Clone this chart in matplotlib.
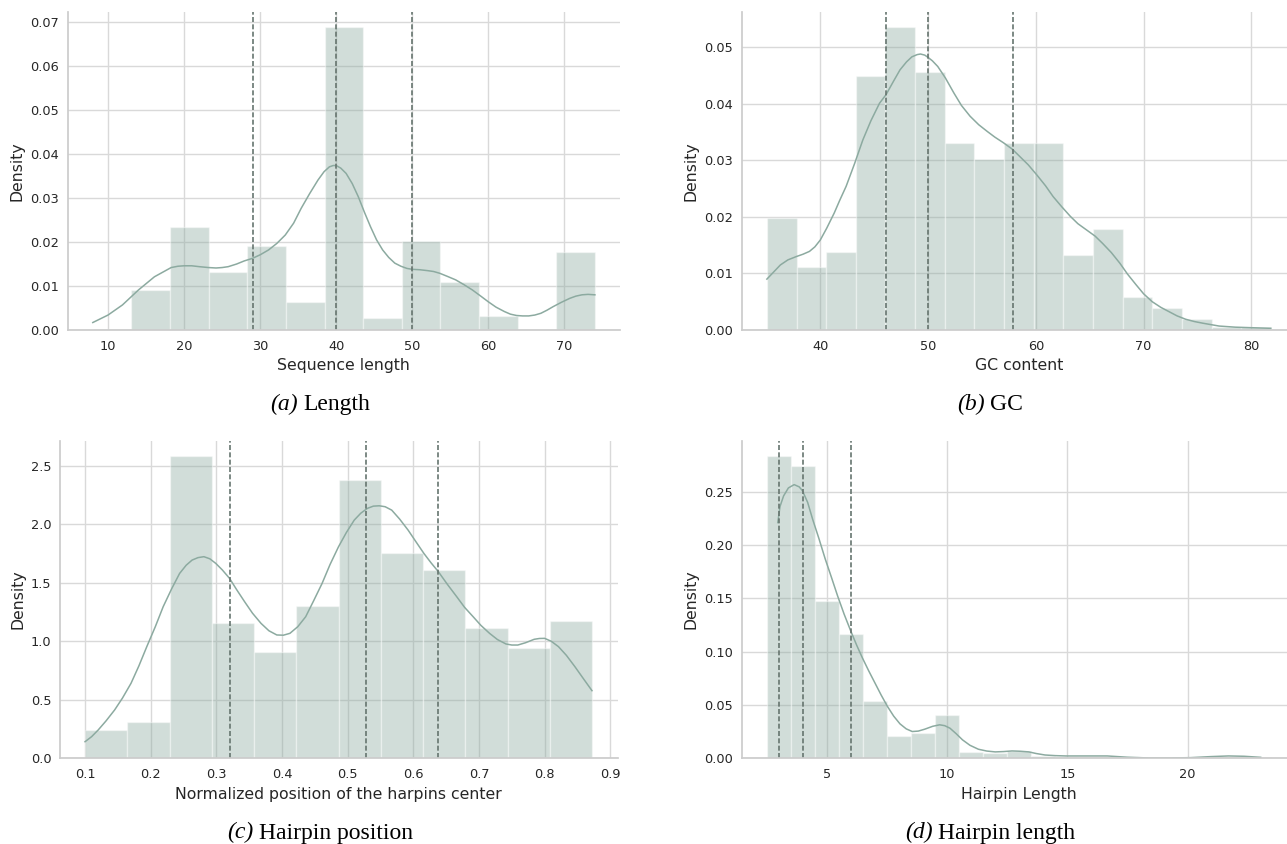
import matplotlib
matplotlib.use("Agg")
import matplotlib.pyplot as plt

# (a) sequence length
len_edges = [8.0, 13.08, 18.15, 23.23, 28.31, 33.38, 38.46, 43.54, 48.62, 53.69, 58.77, 63.85, 68.92, 74.0]
len_density = [0.0003, 0.0092, 0.0235, 0.0131, 0.0192, 0.0064, 0.0688, 0.0028, 0.0202, 0.0110, 0.0031, 0.0, 0.0178]
len_kde_x = [8.0, 10.0, 11.9, 14.0, 16.1, 18.3, 19.2, 20.0, 21.0, 22.0, 23.2, 24.2, 25.0, 25.8, 26.9, 27.9,
             29.0, 30.0, 31.1, 32.2, 33.3, 34.4, 35.4, 36.5, 37.6, 38.4, 39.1, 39.6, 40.0, 40.6, 41.3, 42.1,
             42.9, 43.7, 44.5, 45.3, 46.1, 46.9, 47.7, 48.5, 49.3, 50.0, 51.0, 52.0, 52.8, 53.6, 54.6, 55.7,
             56.8, 57.9, 59.0, 60.0, 61.0, 62.1, 62.9, 63.7, 64.5, 65.3, 66.1, 66.9, 67.7, 68.5, 69.6, 70.7,
             71.5, 72.3, 73.1, 74.0]
len_kde_y = [0.0017, 0.0034, 0.0057, 0.0091, 0.0121, 0.0142, 0.0145, 0.0146, 0.0146, 0.0144, 0.0142, 0.0141,
             0.0142, 0.0144, 0.0150, 0.0157, 0.0163, 0.0171, 0.0182, 0.0197, 0.0216, 0.0243, 0.0277, 0.0310,
             0.0341, 0.0360, 0.0371, 0.0374, 0.0374, 0.0368, 0.0356, 0.0333, 0.0303, 0.0268, 0.0235, 0.0205,
             0.0182, 0.0165, 0.0152, 0.0145, 0.0140, 0.0138, 0.0137, 0.0135, 0.0133, 0.0129, 0.0122, 0.0114,
             0.0103, 0.0091, 0.0077, 0.0064, 0.0052, 0.0042, 0.0036, 0.0033, 0.0032, 0.0032, 0.0034, 0.0038,
             0.0045, 0.0053, 0.0063, 0.0072, 0.0077, 0.0080, 0.0081, 0.0080]
len_quartiles = [29, 40, 50]

# (b) GC content
gc_edges = [35.05, 37.80, 40.55, 43.30, 46.05, 48.80, 51.55, 54.30, 57.05, 59.80, 62.55, 65.30, 68.05,
            70.80, 73.55, 76.30, 79.05, 81.80]
gc_density = [0.0198, 0.0112, 0.0138, 0.0449, 0.0535, 0.0456, 0.0330, 0.0303, 0.0330, 0.0330, 0.0132,
              0.0178, 0.0059, 0.0039, 0.0019, 0.0006, 0.0005]
gc_kde_x = [35.05, 35.7, 36.3, 37.0, 37.8, 38.4, 39.0, 39.5, 40.0, 40.6, 41.3, 41.8, 42.4, 43.2, 43.95,
            44.7, 45.5, 46.1, 46.8, 47.4, 48.0, 48.5, 49.0, 49.3, 49.7, 50.0, 50.4, 50.9, 51.6, 52.4, 53.1,
            53.9, 54.7, 55.5, 56.2, 57.0, 57.8, 58.5, 59.3, 60.1, 60.9, 61.6, 62.4, 63.2, 63.9, 64.7, 65.5,
            66.2, 67.0, 67.8, 68.5, 69.3, 70.0, 70.8, 71.6, 72.4, 73.1, 73.9, 74.7, 75.5, 77.0, 78.5,
            80.1, 81.8]
gc_kde_y = [0.0090, 0.0103, 0.0115, 0.0124, 0.0130, 0.0134, 0.0139, 0.0147, 0.0159, 0.0180, 0.0207,
            0.0229, 0.0254, 0.0295, 0.0336, 0.0370, 0.0401, 0.0416, 0.0440, 0.0460, 0.0474, 0.0483, 0.0487,
            0.0488, 0.0486, 0.0482, 0.0476, 0.0466, 0.0446, 0.0419, 0.0397, 0.0378, 0.0363, 0.0351, 0.0341,
            0.0331, 0.0320, 0.0307, 0.0292, 0.0274, 0.0255, 0.0236, 0.0218, 0.0201, 0.0188, 0.0177, 0.0166,
            0.0153, 0.0137, 0.0118, 0.0099, 0.0080, 0.0064, 0.0050, 0.0040, 0.0032, 0.0025, 0.0019, 0.0015,
            0.0012, 0.0007, 0.0005, 0.0004, 0.0003]
gc_quartiles = [46.1, 50.0, 57.9]

# (c) hairpin position
pos_edges = [0.100, 0.1644, 0.2287, 0.2931, 0.3575, 0.4218, 0.4862, 0.5506, 0.6149, 0.6793, 0.7437,
             0.8080, 0.8724]
pos_density = [0.245, 0.308, 2.585, 1.156, 0.908, 1.304, 2.378, 1.757, 1.609, 1.113, 0.945, 1.176]
pos_kde_x = [0.100, 0.110, 0.120, 0.132, 0.145, 0.157, 0.170, 0.182, 0.194, 0.207, 0.219, 0.232, 0.244,
             0.254, 0.263, 0.272, 0.281, 0.290, 0.299, 0.309, 0.320, 0.331, 0.343, 0.355, 0.368, 0.380,
             0.392, 0.402, 0.412, 0.424, 0.436, 0.448, 0.461, 0.473, 0.486, 0.498, 0.510, 0.520, 0.530,
             0.539, 0.548, 0.557, 0.567, 0.579, 0.592, 0.604, 0.616, 0.627, 0.638, 0.652, 0.666, 0.678,
             0.691, 0.703, 0.716, 0.728, 0.741, 0.750, 0.759, 0.771, 0.784, 0.792, 0.800, 0.810, 0.821,
             0.833, 0.846, 0.859, 0.872]
pos_kde_y = [0.142, 0.185, 0.242, 0.320, 0.413, 0.515, 0.641, 0.790, 0.954, 1.125, 1.296, 1.450, 1.580,
             1.650, 1.694, 1.715, 1.723, 1.705, 1.666, 1.610, 1.538, 1.440, 1.338, 1.240, 1.153, 1.090,
             1.054, 1.052, 1.068, 1.125, 1.210, 1.345, 1.495, 1.655, 1.808, 1.930, 2.036, 2.095, 2.136,
             2.155, 2.158, 2.150, 2.121, 2.045, 1.950, 1.850, 1.751, 1.670, 1.595, 1.485, 1.381, 1.290,
             1.210, 1.135, 1.068, 1.015, 0.977, 0.968, 0.968, 0.988, 1.017, 1.024, 1.025, 1.000, 0.954,
             0.880, 0.783, 0.680, 0.578]
pos_quartiles = [0.320, 0.528, 0.638]

# (d) hairpin length
hp_edges = [2.5, 3.5, 4.5, 5.5, 6.5, 7.5, 8.5, 9.5, 10.5, 11.5, 12.5, 13.5, 14.5, 15.5, 16.5, 17.5,
            18.5, 19.5, 20.5, 21.5, 22.5, 23.5]
hp_density = [0.2836, 0.2745, 0.1474, 0.1170, 0.0540, 0.0210, 0.0235, 0.0408, 0.0060, 0.0047, 0.0072,
              0.0025, 0.0016, 0.0013, 0.0016, 0.0006, 0.0, 0.0, 0.0010, 0.0013, 0.0010]
hp_kde_x = [2.96, 3.05, 3.2, 3.4, 3.64, 3.85, 3.98, 4.2, 4.41, 4.67, 4.93, 5.2, 5.45, 5.72, 6.0, 6.24,
            6.48, 6.74, 7.0, 7.26, 7.52, 7.78, 8.04, 8.3, 8.55, 8.8, 9.07, 9.4, 9.69, 9.9, 10.12, 10.38,
            10.64, 10.95, 11.3, 11.65, 12.0, 12.35, 12.7, 13.05, 13.4, 13.7, 14.07, 14.5, 14.94, 15.8,
            16.66, 17.5, 18.4, 19.26, 20.12, 20.98, 21.7, 22.35, 23.04]
hp_kde_y = [0.221, 0.236, 0.246, 0.2535, 0.2566, 0.2545, 0.251, 0.240, 0.224, 0.206, 0.187, 0.169, 0.152,
            0.135, 0.119, 0.106, 0.094, 0.082, 0.0706, 0.0592, 0.0486, 0.0395, 0.0323, 0.0276, 0.0251,
            0.0255, 0.0273, 0.0300, 0.0314, 0.0306, 0.0282, 0.0230, 0.0173, 0.0122, 0.0085, 0.0068, 0.0060,
            0.0063, 0.0069, 0.0066, 0.0060, 0.0045, 0.0031, 0.0025, 0.0022, 0.0022, 0.0022, 0.0010, 0.0003,
            0.0003, 0.0006, 0.0016, 0.0022, 0.0019, 0.0009]
hp_quartiles = [3, 4, 6]

x_labels = ["Sequence length", "GC content", "Normalized position of the harpins center", "Hairpin Length"]
cap_tags = ["(a)", "(b)", "(c)", "(d)"]
cap_names = ["Length", "GC", "Hairpin position", "Hairpin length"]

panels = [
    (len_edges, len_density, len_kde_x, len_kde_y, len_quartiles),
    (gc_edges, gc_density, gc_kde_x, gc_kde_y, gc_quartiles),
    (pos_edges, pos_density, pos_kde_x, pos_kde_y, pos_quartiles),
    (hp_edges, hp_density, hp_kde_x, hp_kde_y, hp_quartiles),
]

W, H = 1287, 844
fig = plt.figure(figsize=(W / 100, H / 100), dpi=100)

# axes boxes in pixels: left, right, top, bottom
boxes = [(67.7, 620.0, 12.3, 330.0), (741.7, 1296.0, 12.3, 330.0),
         (59.7, 617.6, 440.7, 758.3), (741.5, 1297.0, 440.7, 758.3)]
cap_pos = [(320, 410), (990, 410), (320, 838.5), (990, 838.5)]

base = "#8caaa0"
text_col = "#262626"

for i, (edges, dens, kx, ky, qs) in enumerate(panels):
    l, r, t, b = boxes[i]
    ax = fig.add_axes([l / W, 1 - b / H, (r - l) / W, (b - t) / H])
    ax.set_axisbelow(True)
    widths = [edges[k + 1] - edges[k] for k in range(len(dens))]
    ax.bar(edges[:-1], dens, width=widths, align="edge", color=base, alpha=0.4,
           edgecolor="white", linewidth=1.0)
    ax.plot(kx, ky, color=base, lw=1.1, solid_joinstyle="round")
    for q in qs:
        ax.axvline(q, color="#66756f", lw=1.2, ls=(0, (3.0, 1.4)))
    ax.grid(True, color="#d9d9d9", lw=1.0)
    for s in ["top", "right"]:
        ax.spines[s].set_visible(False)
    for s in ["left", "bottom"]:
        ax.spines[s].set_color("#cccccc")
        ax.spines[s].set_linewidth(1.25)
    ax.tick_params(length=0, labelsize=9.3, colors=text_col)
    ax.tick_params(axis="x", pad=7)
    ax.tick_params(axis="y", pad=6)
    ax.set_xlabel(x_labels[i], fontsize=11.3, color=text_col, labelpad=4)
    ax.set_ylabel("Density", fontsize=11.3, color=text_col, labelpad=4)

fig.canvas.draw()
rend = fig.canvas.get_renderer()
space_px = 0.25 * 17 * 100 / 72
for i in range(4):
    cx, cy = cap_pos[i]
    t1 = fig.text(0, 1 - cy / H, cap_tags[i], fontsize=17, family="Liberation Serif",
                  style="italic", va="baseline", ha="left", color="black")
    t2 = fig.text(0, 1 - cy / H, cap_names[i], fontsize=17, family="Liberation Serif",
                  va="baseline", ha="left", color="black")
    w1 = t1.get_window_extent(rend).width
    w2 = t2.get_window_extent(rend).width
    x0 = cx - (w1 + space_px + w2) / 2
    t1.set_x(x0 / W)
    t2.set_x((x0 + w1 + space_px) / W)

fig.savefig("out.png", dpi=100)
